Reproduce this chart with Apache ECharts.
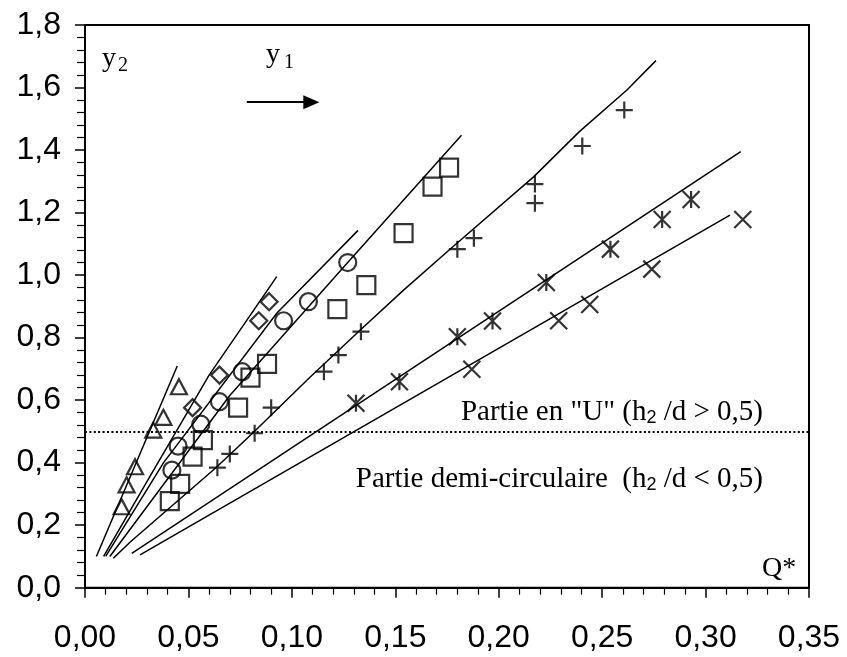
<!DOCTYPE html>
<html>
<head>
<meta charset="utf-8">
<script src="https://cdn.jsdelivr.net/npm/echarts@6/dist/echarts.min.js"></script>
<style>html,body{margin:0;padding:0;background:#fff}#c{width:847px;height:657px}</style>
</head>
<body>
<div id="c"></div>
<script>
// ---- data (Q*, y2) ----
const xTicks = [0, 0.05, 0.10, 0.15, 0.20, 0.25, 0.30, 0.35];
const yTicks = [0, 0.2, 0.4, 0.6, 0.8, 1.0, 1.2, 1.4, 1.6, 1.8];

const triQ = [0.0177, 0.0201, 0.0242, 0.0330, 0.0379, 0.0454];
const triY = [0.259, 0.329, 0.387, 0.504, 0.545, 0.643];
const diaQ = [0.052, 0.065, 0.084, 0.089];
const diaY = [0.576, 0.680, 0.854, 0.915];
const cirQ = [0.042, 0.045, 0.056, 0.065, 0.076, 0.096, 0.108, 0.127];
const cirY = [0.376, 0.453, 0.523, 0.595, 0.691, 0.854, 0.915, 1.040];
const sqQ = [0.041, 0.046, 0.052, 0.057, 0.074, 0.080, 0.088, 0.122, 0.136, 0.154, 0.168, 0.176];
const sqY = [0.277, 0.332, 0.419, 0.472, 0.576, 0.672, 0.716, 0.891, 0.968, 1.134, 1.283, 1.344];
const plQ = [0.064, 0.070, 0.082, 0.090, 0.1155, 0.1225, 0.1334, 0.180, 0.188, 0.2175, 0.2175, 0.2404, 0.2607];
const plY = [0.384, 0.428, 0.494, 0.576, 0.691, 0.744, 0.819, 1.083, 1.118, 1.291, 1.230, 1.413, 1.528];
const asQ = [0.131, 0.152, 0.180, 0.197, 0.223, 0.254, 0.279, 0.293];
const asY = [0.590, 0.659, 0.803, 0.853, 0.976, 1.083, 1.178, 1.242];
const xxQ = [0.187, 0.229, 0.244, 0.274, 0.318];
const xxY = [0.699, 0.854, 0.906, 1.019, 1.178];

// fitted curves
const c1Q = [0.0055, 0.0446];               const c1Y = [0.10, 0.709];
const c2Q = [0.009, 0.030, 0.060, 0.0927];  const c2Y = [0.10, 0.34, 0.68, 0.995];
const c3Q = [0.010, 0.038, 0.0927, 0.132];  const c3Y = [0.10, 0.40, 0.878, 1.143];
const c4Q = [0.012, 0.070, 0.127, 0.182];   const c4Y = [0.10, 0.615, 1.04, 1.447];
const c5Q = [0.0137, 0.022, 0.063, 0.081, 0.109, 0.134, 0.154, 0.177, 0.217, 0.239, 0.262, 0.276];
const c5Y = [0.094, 0.147, 0.382, 0.494, 0.675, 0.830, 0.952, 1.086, 1.315, 1.459, 1.592, 1.686];
const c6Q = [0.0226, 0.317];                const c6Y = [0.110, 1.395];
const c7Q = [0.0266, 0.3118];               const c7Y = [0.105, 1.192];

const limitY = 0.5;
const arrowQ = [0.0782, 0.1094]; const arrowY = 1.553;

// ---- build ----
const zip = (a, b) => a.map((v, i) => [v, b[i]]);
const comma = (v, d) => v.toFixed(d).replace('.', ',');

const plusPath = 'path://M0,5L10,5M5,0L5,10';
const crossPath = 'path://M0,0L10,10M10,0L0,10';
const starPath = 'path://M1,0L9,10M9,0L1,10M5,0L5,10';

const mk = (q, y, symbol, size) => ({
  type: 'scatter', data: zip(q, y), symbol: symbol, symbolSize: size, z: 5,
  itemStyle: { color: 'rgba(0,0,0,0)', borderColor: '#000', borderWidth: 2.2 }
});
const ln = (q, y) => ({
  type: 'line', data: zip(q, y), showSymbol: false, symbol: 'none', z: 3,
  lineStyle: { color: '#000', width: 1.5 }
});

const serif = 'Liberation Serif, Times New Roman, serif';
const sans = 'Liberation Sans, Arial, sans-serif';

const chart = echarts.init(document.getElementById('c'), null, { renderer: 'canvas' });
const line1 = ln(c1Q, c1Y);
line1.markLine = {
  silent: true, animation: false,
  symbol: ['none', 'none'],
  label: { show: false },
  data: [
    { yAxis: limitY, lineStyle: { type: [2, 2.4], width: 2, color: '#000' } },
    [ { coord: [arrowQ[0], arrowY], symbol: 'none' },
      { coord: [arrowQ[1], arrowY], symbol: 'triangle', symbolSize: [14, 16] } ]
  ],
  lineStyle: { color: '#000', width: 2, type: 'solid' }
};

chart.setOption({
  animation: false,
  backgroundColor: '#fff',
  grid: { left: 85, right: 38, top: 25, bottom: 69.3, show: true, borderColor: '#000', borderWidth: 2, backgroundColor: 'transparent' },
  xAxis: {
    type: 'value', min: xTicks[0], max: xTicks[xTicks.length - 1], interval: 0.05,
    axisLine: { show: true, onZero: false, lineStyle: { color: '#000', width: 2 } },
    axisTick: { show: true, inside: false, length: 10, lineStyle: { color: '#000', width: 1.5 } },
    minorTick: { show: true, splitNumber: 5, length: 7, lineStyle: { color: '#000', width: 1.2 } },
    splitLine: { show: false },
    axisLabel: { margin: 34, color: '#000', fontFamily: sans, fontSize: 32, formatter: v => comma(v, 2) }
  },
  yAxis: {
    type: 'value', min: yTicks[0], max: yTicks[yTicks.length - 1], interval: 0.2,
    axisLine: { show: true, onZero: false, lineStyle: { color: '#000', width: 2 } },
    axisTick: { show: true, inside: false, length: 10, lineStyle: { color: '#000', width: 1.5 } },
    minorTick: { show: true, splitNumber: 5, length: 8, lineStyle: { color: '#000', width: 1.2 } },
    splitLine: { show: false },
    axisLabel: { margin: 24, color: '#000', fontFamily: sans, fontSize: 32, formatter: v => comma(v, 1) }
  },
  series: [
    line1, ln(c2Q, c2Y), ln(c3Q, c3Y), ln(c4Q, c4Y), ln(c5Q, c5Y), ln(c6Q, c6Y), ln(c7Q, c7Y),
    mk(triQ, triY, 'triangle', [16, 15]),
    mk(diaQ, diaY, 'diamond', 17),
    mk(cirQ, cirY, 'circle', 17),
    mk(sqQ, sqY, 'rect', 18),
    mk(plQ, plY, plusPath, 17),
    mk(asQ, asY, starPath, 17),
    mk(xxQ, xxY, crossPath, 17)
  ],
  graphic: [
    { type: 'text', x: 102, y: 73, style: { text: 'y', font: '28px ' + serif, fill: '#000', verticalAlign: 'bottom' } },
    { type: 'text', x: 118, y: 76, style: { text: '2', font: '20px ' + serif, fill: '#000', verticalAlign: 'bottom' } },
    { type: 'text', x: 266, y: 69, style: { text: 'y', font: '28px ' + serif, fill: '#000', verticalAlign: 'bottom' } },
    { type: 'text', x: 284, y: 73, style: { text: '1', font: '20px ' + serif, fill: '#000', verticalAlign: 'bottom' } },
    { type: 'text', x: 763, y: 427, style: {
        text: '{m|Partie en "U" (h}{s|2}{m| /d > 0,5)}', align: 'right', verticalAlign: 'bottom', fill: '#000',
        rich: { m: { fontFamily: serif, fontSize: 29, verticalAlign: 'bottom' }, s: { fontFamily: sans, fontSize: 18, verticalAlign: 'bottom' } } } },
    { type: 'text', x: 763, y: 494, style: {
        text: '{m|Partie demi-circulaire  (h}{s|2}{m| /d < 0,5)}', align: 'right', verticalAlign: 'bottom', fill: '#000',
        rich: { m: { fontFamily: serif, fontSize: 29, verticalAlign: 'bottom' }, s: { fontFamily: sans, fontSize: 18, verticalAlign: 'bottom' } } } },
    { type: 'text', x: 762, y: 583, style: { text: 'Q*', font: '28px ' + serif, fill: '#000', verticalAlign: 'bottom' } }
  ]
});
</script>
</body>
</html>
